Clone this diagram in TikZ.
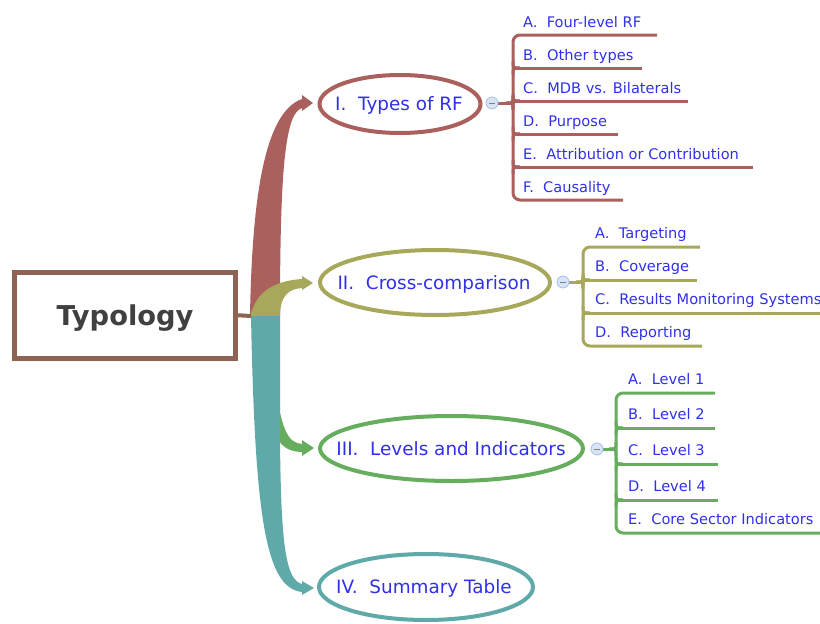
\documentclass[tikz,border=0pt]{standalone}
\usepackage{fontspec}
\setmainfont{DejaVu Sans}
\usetikzlibrary{shapes.geometric}
\definecolor{cred}{RGB}{170,96,92}
\definecolor{colive}{RGB}{168,168,90}
\definecolor{cteal}{RGB}{96,169,169}
\definecolor{cgreen}{RGB}{103,173,94}
\definecolor{cbrown}{RGB}{142,99,83}
\definecolor{cblue}{RGB}{48,48,235}
\definecolor{ctext}{RGB}{64,64,64}
\definecolor{cfill}{RGB}{214,228,246}
\definecolor{cedge}{RGB}{165,192,230}
\begin{document}
\begin{tikzpicture}[x=1pt,y=-1pt,
 ell/.style={ellipse, draw, line width=4pt, inner sep=0pt, fill=white},
 maintxt/.style={text=cblue, font=\fontsize{18.4}{20}\selectfont, inner sep=0pt, anchor=base},
 subtxt/.style={text=cblue, font=\fontsize{14.6}{16}\selectfont, inner sep=0pt, anchor=base west},
 knob/.style={circle, draw=cedge, fill=cfill, line width=0.8pt, minimum size=12pt, inner sep=0pt},
 spine/.style={line width=3pt},
]
\useasboundingbox (0,0) rectangle (820,624);

% ---- trunk bands ----
\fill[cred] (250,316) .. controls (252,200) and (264,112) .. (302,99) -- (302,95) -- (313,103) -- (302,111) -- (302,108) .. controls (285,113) and (280,170) .. (280,316) -- cycle;
\fill[colive] (250,317) .. controls (255,295) and (270,281) .. (302,279) -- (302,276) -- (313,283) -- (302,290) -- (302,288) .. controls (288,289) and (280,296) .. (280,317) -- cycle;
\fill[cgreen] (276,390) .. controls (282,430) and (288,443) .. (302,444) -- (302,440) -- (314,448) -- (302,456) -- (302,452) .. controls (288,452) and (278,445) .. (276,432) -- cycle;
\fill[cteal] (251,316) -- (280,316) -- (280,440) .. controls (281,540) and (285,580) .. (302,584) -- (302,581) -- (314,588) -- (302,595) -- (302,592) .. controls (266,588) and (255,520) .. (251,316) -- cycle;

% ---- root ----
\node[draw=cbrown, line width=5pt, minimum width=221pt, minimum height=85.5pt, inner sep=0pt, fill=white] (root) at (125,315.25) {};
\node[text=ctext, font=\bfseries\fontsize{27.3}{30}\selectfont, inner sep=0pt, anchor=base] (roottxt) at (125,325) {Typology};
\draw[cbrown, line width=4pt] (root.east) -- (251,316);

% ---- main topics ----
\node[ell, draw=cred, minimum width=161pt, minimum height=58pt] (n1) at (400,104) {};
\node[maintxt] (t1) at (399,110.5) {I.\ \ Types of RF};
\node[ell, draw=colive, minimum width=230pt, minimum height=65pt] (n2) at (435,282.5) {};
\node[maintxt] (t2) at (434,289) {II.\ \ Cross-comparison};
\node[ell, draw=cgreen, minimum width=263pt, minimum height=65pt] (n3) at (451.5,448.5) {};
\node[maintxt] (t3) at (451,455) {III.\ \ Levels and Indicators};
\node[ell, draw=cteal, minimum width=214pt, minimum height=66pt] (n4) at (426,587) {};
\node[maintxt] (t4) at (424,593.5) {IV.\ \ Summary Table};

% ---- group I ----
\draw[cred, spine] (498,103) -- (513,103);
\draw[cred, spine] (513,96) .. controls (513,103) .. (506,103);
\draw[cred, spine] (513,110) .. controls (513,103) .. (506,103);
\draw[cred, spine, rounded corners=7pt] (657,35) -- (513,35) -- (513,200) -- (623,200);
\foreach \y/\e in {68/642,101/688,134/618,167/753}{
  \draw[cred, spine] (513,\y) -- (\e,\y);
  \draw[cred, spine] (513,\y-7) .. controls (513,\y) .. (520,\y);
  \draw[cred, spine] (513,\y+7) .. controls (513,\y) .. (520,\y);
}
\node[knob] (k1) at (492,103) {};
\draw[gray, line width=0.8pt] ([xshift=-3pt]k1.center) -- ([xshift=3pt]k1.center);
\node[subtxt] (i1a) at (523,27) {A.\ \ Four-level RF};
\node[subtxt] (i1b) at (523,60) {B.\ \ Other types};
\node[subtxt] (i1c) at (523,93) {C.\ \ MDB vs. Bilaterals};
\node[subtxt] (i1d) at (523,126) {D.\ \ Purpose};
\node[subtxt] (i1e) at (523,159) {E.\ \ Attribution or Contribution};
\node[subtxt] (i1f) at (523,192) {F.\ \ Causality};

% ---- group II ----
\draw[colive, spine] (569,282) -- (583,282);
\draw[colive, spine] (583,275) .. controls (583,282) .. (576,282);
\draw[colive, spine] (583,289) .. controls (583,282) .. (576,282);
\draw[colive, spine, rounded corners=7pt] (700,247) -- (583,247) -- (583,346) -- (702,346);
\foreach \y/\e in {280/697,313/820}{
  \draw[colive, spine] (583,\y) -- (\e,\y);
  \draw[colive, spine] (583,\y-7) .. controls (583,\y) .. (590,\y);
  \draw[colive, spine] (583,\y+7) .. controls (583,\y) .. (590,\y);
}
\node[knob] (k2) at (563,282) {};
\draw[gray, line width=0.8pt] ([xshift=-3pt]k2.center) -- ([xshift=3pt]k2.center);
\node[subtxt] (i2a) at (595,238.5) {A.\ \ Targeting};
\node[subtxt] (i2b) at (595,271.5) {B.\ \ Coverage};
\node[subtxt] (i2c) at (595,304.5) {C.\ \ Results Monitoring Systems};
\node[subtxt] (i2d) at (595,337.5) {D.\ \ Reporting};

% ---- group III ----
\draw[cgreen, spine] (603,449) -- (616,449);
\draw[cgreen, spine] (616,442) .. controls (616,449) .. (609,449);
\draw[cgreen, spine] (616,456) .. controls (616,449) .. (609,449);
\draw[cgreen, spine, rounded corners=7pt] (715,393) -- (616,393) -- (616,533) -- (820,533);
\foreach \y/\e in {428/715,464/718,500/718}{
  \draw[cgreen, spine] (616,\y) -- (\e,\y);
  \draw[cgreen, spine] (616,\y-7) .. controls (616,\y) .. (623,\y);
  \draw[cgreen, spine] (616,\y+7) .. controls (616,\y) .. (623,\y);
}
\node[knob] (k3) at (597,449) {};
\draw[gray, line width=0.8pt] ([xshift=-3pt]k3.center) -- ([xshift=3pt]k3.center);
\node[subtxt] (i3a) at (628,384) {A.\ \ Level 1};
\node[subtxt] (i3b) at (628,419) {B.\ \ Level 2};
\node[subtxt] (i3c) at (628,455) {C.\ \ Level 3};
\node[subtxt] (i3d) at (628,491) {D.\ \ Level 4};
\node[subtxt] (i3e) at (628,524) {E.\ \ Core Sector Indicators};
\end{tikzpicture}
\end{document}
